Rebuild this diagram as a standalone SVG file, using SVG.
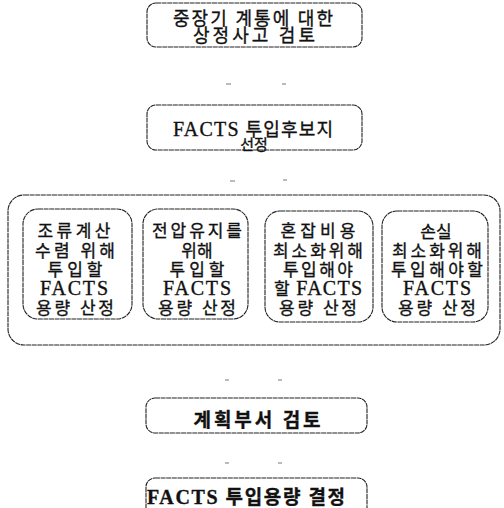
<svg xmlns="http://www.w3.org/2000/svg" width="504" height="508" viewBox="0 0 504 508">
<style>
.box{fill:none;stroke:#222;stroke-width:1.1;stroke-dasharray:5 0.6}
.t{font-family:"Liberation Serif","Noto Sans CJK KR",serif;fill:#111;text-anchor:middle;stroke:#111;stroke-width:0.35}
.m{font-size:18px}
.b{font-size:19px;font-weight:700}
.in{font-size:17px}
.f{font-size:20px}
.sp{stroke:#777;stroke-width:1}
</style>
<rect width="504" height="508" fill="#fff"/>
<g id="connectors">
<line class="sp" x1="226" y1="84" x2="231" y2="84"/><line class="sp" x1="282" y1="84" x2="286" y2="84"/>
<line class="sp" x1="230" y1="181" x2="235" y2="181"/><line class="sp" x1="283" y1="180" x2="287" y2="180"/>
<line class="sp" x1="225" y1="380" x2="229" y2="380"/><line class="sp" x1="278" y1="380" x2="282" y2="380"/>
<line class="sp" x1="225" y1="463" x2="229" y2="463"/><line class="sp" x1="278" y1="463" x2="282" y2="463"/>
</g>
<g id="n1">
<rect class="box" x="147" y="3" width="215" height="44" rx="9"/>
<text class="t m" x="253" y="25" textLength="160" lengthAdjust="spacing">중장기 계통에 대한</text>
<text class="t m" x="254" y="42" textLength="122" lengthAdjust="spacing">상정사고 검토</text>
</g>
<g id="n2">
<rect class="box" x="147" y="105" width="215" height="45" rx="9"/>
<text class="t m" x="253" y="136" textLength="160" lengthAdjust="spacing"><tspan style="font-size:20px">FACTS</tspan> 투입후보지</text>
<text class="t" x="254" y="150" style="font-size:15px">선정</text>
</g>
<g id="group">
<rect class="box" x="8" y="195" width="492" height="150" rx="16"/>
</g>
<g id="nA">
<rect class="box" x="23" y="209" width="109" height="110" rx="15"/>
<text class="t in" x="74" y="237" textLength="73" lengthAdjust="spacing">조류계산</text>
<text class="t in" x="75" y="257" textLength="80" lengthAdjust="spacing">수렴 위해</text>
<text class="t in" x="75" y="276" textLength="55" lengthAdjust="spacing">투입할</text>
<text class="t f" x="74" y="295" textLength="68" lengthAdjust="spacing">FACTS</text>
<text class="t in" x="75" y="314" textLength="78" lengthAdjust="spacing">용량 산정</text>
</g>
<g id="nB">
<rect class="box" x="143" y="209" width="105" height="110" rx="15"/>
<text class="t in" x="197" y="237" textLength="90" lengthAdjust="spacing">전압유지를</text>
<text class="t in" x="197" y="257">위해</text>
<text class="t in" x="197" y="276" textLength="55" lengthAdjust="spacing">투입할</text>
<text class="t f" x="197" y="295" textLength="68" lengthAdjust="spacing">FACTS</text>
<text class="t in" x="197" y="314" textLength="78" lengthAdjust="spacing">용량 산정</text>
</g>
<g id="nC">
<rect class="box" x="265" y="211" width="108" height="111" rx="15"/>
<text class="t in" x="318" y="237" textLength="75" lengthAdjust="spacing">혼잡비용</text>
<text class="t in" x="318" y="257" textLength="90" lengthAdjust="spacing">최소화위해</text>
<text class="t in" x="318" y="276" textLength="70" lengthAdjust="spacing">투입해야</text>
<text class="t in" x="318" y="295" textLength="88" lengthAdjust="spacing">할 <tspan style="font-size:20px;font-family:'Liberation Serif',serif">FACTS</tspan></text>
<text class="t in" x="318" y="314" textLength="78" lengthAdjust="spacing">용량 산정</text>
</g>
<g id="nD">
<rect class="box" x="382" y="211" width="106" height="111" rx="15"/>
<text class="t in" x="436" y="238">손실</text>
<text class="t in" x="437" y="257" textLength="90" lengthAdjust="spacing">최소화위해</text>
<text class="t in" x="437" y="276" textLength="92" lengthAdjust="spacing">투입해야할</text>
<text class="t f" x="437" y="295" textLength="68" lengthAdjust="spacing">FACTS</text>
<text class="t in" x="437" y="314" textLength="78" lengthAdjust="spacing">용량 산정</text>
</g>
<g id="n3">
<rect class="box" x="146" y="398" width="221" height="35" rx="9"/>
<text class="t b" x="257" y="427" textLength="127" lengthAdjust="spacing">계획부서 검토</text>
</g>
<g id="n4">
<rect class="box" x="146" y="478" width="221" height="40" rx="9"/>
<text class="t b" x="246" y="504" textLength="198" lengthAdjust="spacing"><tspan style="font-size:20px">FACTS</tspan> 투입용량 결정</text>
</g>
</svg>
